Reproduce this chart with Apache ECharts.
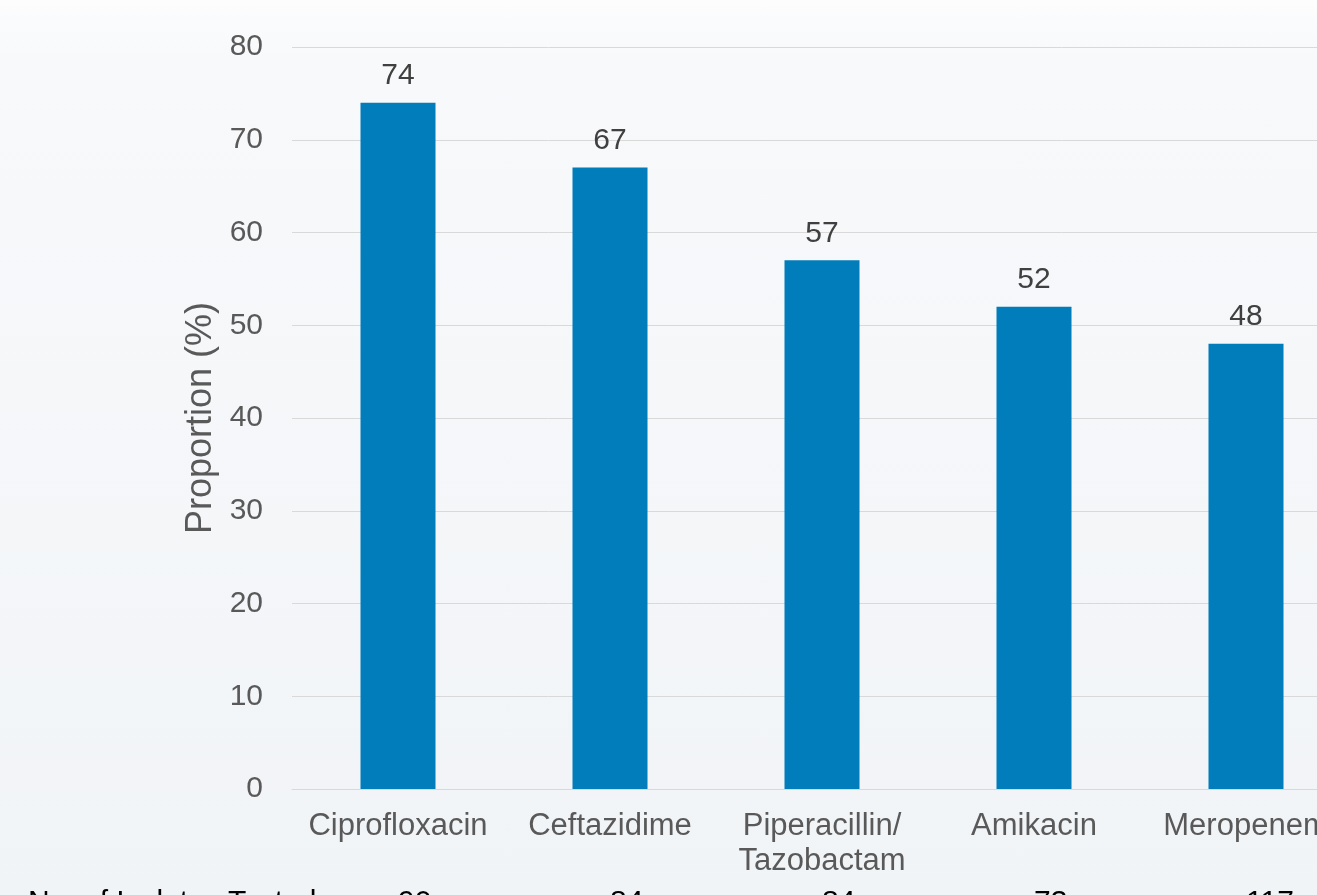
<!DOCTYPE html>
<html>
<head>
<meta charset="utf-8">
<script src="https://cdn.jsdelivr.net/npm/echarts@6/dist/echarts.min.js"></script>
<style>
  html, body { margin: 0; padding: 0; width: 1317px; height: 895px; overflow: hidden; }
  body { background: linear-gradient(to bottom, #fdfdfe 0px, #fafbfc 22px, #f8f9fb 60px, #f1f4f7 895px); }
  #chart { width: 1317px; height: 895px; }
</style>
</head>
<body>
<div id="chart"></div>
<script>
// Resistance proportion by antibiotic
const antibiotics = ['Ciprofloxacin', 'Ceftazidime', 'Piperacillin/\nTazobactam', 'Amikacin', 'Meropenem'];
const proportions = [74, 67, 57, 52, 48];
const isolatesTested = ['90', '84', '84', '73', '117'];
const yTicks = { min: 0, max: 80, interval: 10 };

const FONT = '"Liberation Sans", Arial, sans-serif';
const chart = echarts.init(document.getElementById('chart'), null, { renderer: 'canvas' });

chart.setOption({
  backgroundColor: 'transparent',
  animation: false,
  grid: {
    left: 292, right: -35, top: 47, bottom: 106,
    containLabel: false, outerBoundsMode: 'none'
  },
  xAxis: [
    {
      type: 'category',
      data: antibiotics,
      axisLine: { show: true, lineStyle: { color: '#d9d9d9', width: 1 } },
      axisTick: { show: false },
      axisLabel: {
        color: '#595959', fontFamily: FONT, fontSize: 31, margin: 20,
        lineHeight: 35, interval: 0
      }
    },
    {
      type: 'category',
      position: 'bottom',
      data: isolatesTested,
      axisLine: { show: false },
      axisTick: { show: false },
      splitLine: { show: false },
      axisLabel: {
        color: '#000000', fontFamily: FONT, fontSize: 30, margin: 99,
        align: 'left', interval: 0
      }
    }
  ],
  yAxis: {
    type: 'value',
    min: yTicks.min, max: yTicks.max, interval: yTicks.interval,
    name: 'Proportion (%)',
    nameLocation: 'middle',
    nameGap: 71,
    nameTextStyle: { color: '#595959', fontFamily: FONT, fontSize: 36 },
    axisLine: { show: false },
    axisTick: { show: false },
    axisLabel: { color: '#595959', fontFamily: FONT, fontSize: 30, margin: 29 },
    splitLine: { lineStyle: { color: '#d9d9d9', width: 1 } }
  },
  graphic: [
    {
      type: 'text', left: 28, top: 888,
      style: { text: 'No. of Isolates Tested:', fill: '#000000', font: '30px ' + FONT }
    }
  ],
  series: [
    {
      type: 'bar',
      data: proportions,
      barWidth: 75,
      itemStyle: { color: '#007DBA' },
      label: {
        show: true, position: 'top', distance: 12,
        color: '#404040', fontFamily: FONT, fontSize: 30
      }
    }
  ]
});
</script>
</body>
</html>
